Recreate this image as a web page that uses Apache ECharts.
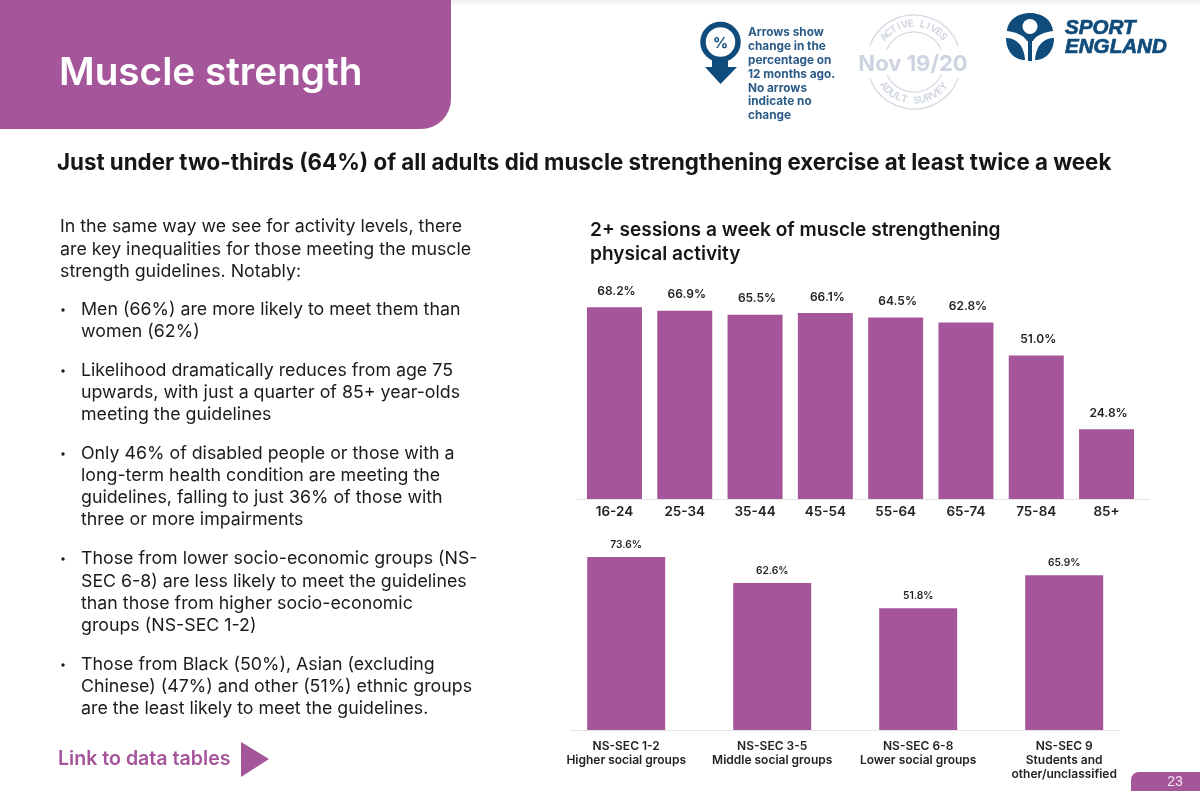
<!DOCTYPE html>
<html><head><meta charset="utf-8">
<script src="https://cdn.jsdelivr.net/npm/echarts@6/dist/echarts.min.js"></script>
<style>html,body{margin:0;padding:0;background:#fff}#c{width:1200px;height:794px}</style>
</head><body><div id="c"></div>
<script>
const ageCategories = ['16-24','25-34','35-44','45-54','55-64','65-74','75-84','85+'];
const ageValues = [68.2,66.9,65.5,66.1,64.5,62.8,51.0,24.8];
const secCategories = ['NS-SEC 1-2\nHigher social groups','NS-SEC 3-5\nMiddle social groups','NS-SEC 6-8\nLower social groups','NS-SEC 9\nStudents and\nother/unclassified'];
const secValues = [73.6,62.6,51.8,65.9];
const pageTitle = 'Muscle strength';
const headline = 'Just under two-thirds (64%) of all adults did muscle strengthening exercise at least twice a week';
const chartTitleLines = ['2+ sessions a week of muscle strengthening','physical activity'];
const introLines = ['In the same way we see for activity levels, there','are key inequalities for those meeting the muscle','strength guidelines. Notably:'];
const bulletBlocks = [
 ['Men (66%) are more likely to meet them than','women (62%)'],
 ['Likelihood dramatically reduces from age 75','upwards, with just a quarter of 85+ year-olds','meeting the guidelines'],
 ['Only 46% of disabled people or those with a','long-term health condition are meeting the','guidelines, falling to just 36% of those with','three or more impairments'],
 ['Those from lower socio-economic groups (NS-','SEC 6-8) are less likely to meet the guidelines','than those from higher socio-economic','groups (NS-SEC 1-2)'],
 ['Those from Black (50%), Asian (excluding','Chinese) (47%) and other (51%) ethnic groups','are the least likely to meet the guidelines.']
];
const legendNote = ['Arrows show','change in the','percentage on','12 months ago.','No arrows','indicate no','change'];

const PURPLE='#A5569B', NAVY='#0F4C7C', INK='#1b1b1b', FONT='Inter, "Open Sans", sans-serif', STAMP='#D3D8E3';

const mk=(name,fn)=>echarts.graphic.registerShape(name,echarts.graphic.extendShape({shape:{},buildPath:fn}));
mk('logoDome',(c)=>{c.moveTo(1007,31);c.bezierCurveTo(1009,7,1051,7,1053,31);c.bezierCurveTo(1045,32,1036,35,1033,41);c.lineTo(1027,41);c.bezierCurveTo(1024,35,1015,32,1007,31);c.closePath();});
mk('logoLeafL',(c)=>{c.moveTo(1006,38);c.bezierCurveTo(1014,38,1024,43,1025,60);c.bezierCurveTo(1013,60,1006,50,1006,38);c.closePath();});
mk('logoLeafR',(c)=>{c.moveTo(1054,38);c.bezierCurveTo(1046,38,1036,43,1035,60);c.bezierCurveTo(1047,60,1054,50,1054,38);c.closePath();});

const g=[];
const T=(text,x,y,size,weight,fill,extra)=>g.push({type:'text',x,y,silent:true,style:Object.assign({text,fontSize:size,fontWeight:weight,fontFamily:FONT,fill,textVerticalAlign:'middle',textBaseline:'middle'},extra||{})});

// top shadow
g.push({type:'rect',shape:{x:451,y:0,width:749,height:7},style:{fill:new echarts.graphic.LinearGradient(0,0,0,1,[{offset:0,color:'#F0F0F0'},{offset:1,color:'#FFFFFF'}])}});
// header
g.push({type:'rect',shape:{x:0,y:-40,width:451,height:169,r:[0,0,30,0]},style:{fill:PURPLE}});
T(pageTitle,59,73,38.7,600,'#fff');
T(headline,57,163,22.3,700,'#161616');
// left text
const BODY=17.8;
const introY=[227,250,272];
introLines.forEach((t,i)=>T(t,60,introY[i],BODY,400,INK));
const blockY=[[310,332],[371,393,415],[454,476,498,520],[559,582,604,626],[665,687,709]];
bulletBlocks.forEach((b,k)=>{
  g.push({type:'circle',shape:{cx:63,cy:blockY[k][0],r:1.7},style:{fill:INK}});
  b.forEach((t,i)=>T(t,81,blockY[k][i],BODY,400,INK));
});
T('Link to data tables',58,759,19.6,600,PURPLE);
g.push({type:'polygon',shape:{points:[[241,742],[241,777],[269,759]]},style:{fill:PURPLE}});
// chart title
T(chartTitleLines[0],590,230,19.1,600,'#161616');
T(chartTitleLines[1],590,254,19.1,600,'#161616');
// axis base lines
g.push({type:'line',shape:{x1:576,y1:499.5,x2:1150,y2:499.5},style:{stroke:'#E4E4E4',lineWidth:1}});
g.push({type:'line',shape:{x1:570,y1:730.5,x2:1120,y2:730.5},style:{stroke:'#E4E4E4',lineWidth:1}});
// page tab
g.push({type:'rect',shape:{x:1131,y:772,width:69,height:19,r:[8,0,0,0]},style:{fill:PURPLE}});
T('23',1175,782,14,400,'#F3E3F0',{fontFamily:'"Liberation Sans"',textAlign:'center'});
// legend icon
g.push({type:'polygon',shape:{points:[[712,52],[728,52],[728,67],[737,67],[720.5,84],[705,67],[712,67]]},style:{fill:NAVY}});
g.push({type:'circle',shape:{cx:720.5,cy:42,r:17.5},style:{fill:'#fff',stroke:NAVY,lineWidth:5.5}});
T('%',720.5,43,15,700,NAVY,{textAlign:'center'});
legendNote.forEach((t,i)=>T(t,748,[32,46,60,74,88,101,115][i],11.8,700,'#2A5A86'));
// stamp
const sx=914,sy=62;
[[47,200,340],[47,20,160],[30,205,335],[30,25,155]].forEach(a=>g.push({type:'arc',shape:{cx:sx,cy:sy,r:a[0],startAngle:a[1]*Math.PI/180,endAngle:a[2]*Math.PI/180,clockwise:true},style:{stroke:STAMP,lineWidth:1.2,fill:null}}));
T('Nov 19/20',sx-1,64,22,700,'#CDD3E0',{textAlign:'center'});
const stampChar=(ch,d,flip)=>{const a=d*Math.PI/180;
  g.push({type:'text',x:sx+38.5*Math.sin(a),y:sy-38.5*Math.cos(a),rotation:-a+(flip?Math.PI:0),silent:true,style:{text:ch,fontSize:10,fontWeight:700,fontFamily:FONT,fill:STAMP,textAlign:'center',textVerticalAlign:'middle',textBaseline:'middle'}});};
[...'ACTIVE LIVES'].forEach((ch,i)=>stampChar(ch,-50+i*9,false));
[...'ADULT SURVEY'].forEach((ch,i)=>stampChar(ch,232-i*9.3,true));
// logo
g.push({type:'logoDome',shape:{},style:{fill:NAVY}});
g.push({type:'circle',shape:{cx:1030,cy:26.5,r:7.5},style:{fill:'#fff'}});
g.push({type:'logoLeafL',shape:{},style:{fill:NAVY}});
g.push({type:'logoLeafR',shape:{},style:{fill:NAVY}});
g.push({type:'rect',shape:{x:1028,y:38,width:4,height:23},style:{fill:NAVY}});
const lf={fontFamily:'"Liberation Sans"',fontStyle:'italic',stroke:NAVY,lineWidth:0.7};
T('SPORT',1065,28,20.6,700,NAVY,lf);
T('ENGLAND',1065,47.5,20.6,700,NAVY,lf);

const labelFmt=p=>p.value.toFixed(1)+'%';
const chart=echarts.init(document.getElementById('c'),null,{renderer:'canvas'});
chart.setOption({
  animation:false,backgroundColor:'#fff',
  grid:[{left:579.3,top:274,width:562.4,height:225},{left:553.2,top:542,width:584,height:188}],
  xAxis:[
   {type:'category',gridIndex:0,data:ageCategories,axisLine:{show:false},axisTick:{show:false},axisLabel:{margin:6,fontSize:13.5,fontWeight:600,color:'#222',fontFamily:FONT,interval:0}},
   {type:'category',gridIndex:1,data:secCategories,axisLine:{show:false},axisTick:{show:false},axisLabel:{margin:9,fontSize:12,lineHeight:14,fontWeight:600,color:'#222',fontFamily:FONT,interval:0,verticalAlign:'top'}}
  ],
  yAxis:[
   {type:'value',gridIndex:0,min:0,max:80,show:false},
   {type:'value',gridIndex:1,min:0,max:80,show:false}
  ],
  series:[
   {type:'bar',xAxisIndex:0,yAxisIndex:0,data:ageValues,barWidth:55,itemStyle:{color:PURPLE},label:{show:true,position:'top',distance:10,offset:[2,0],formatter:labelFmt,fontSize:12,fontWeight:600,color:'#222',fontFamily:FONT}},
   {type:'bar',xAxisIndex:1,yAxisIndex:1,data:secValues,barWidth:78,itemStyle:{color:PURPLE},label:{show:true,position:'top',distance:7,formatter:labelFmt,fontSize:10.2,fontWeight:600,color:'#222',fontFamily:FONT}}
  ],
  graphic:{elements:g}
});
</script></body></html>
